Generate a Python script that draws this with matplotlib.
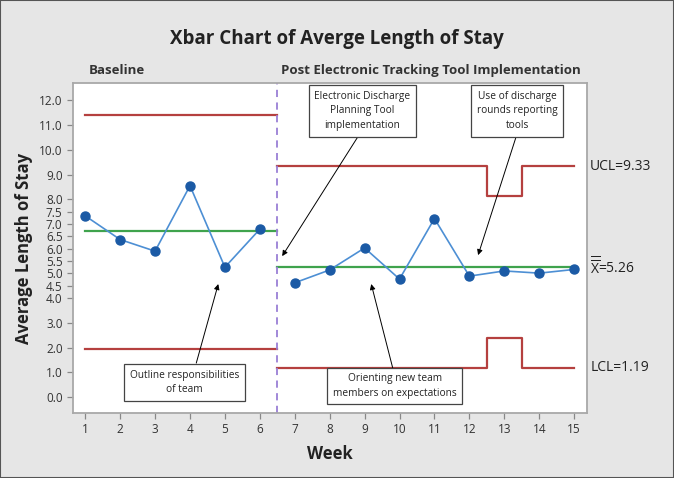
import numpy as np
import matplotlib
matplotlib.use("Agg")
import matplotlib.pyplot as plt
from matplotlib.patches import Rectangle

plt.rcParams['font.family'] = ['Open Sans', 'DejaVu Sans']
plt.rcParams['mathtext.fontset'] = 'custom'
plt.rcParams['mathtext.rm'] = 'Open Sans'

# data
weeks = np.arange(1, 16)
avg_stay = [7.33, 6.37, 5.90, 8.55, 5.25, 6.79,
            4.62, 5.14, 6.03, 4.77, 7.22, 4.89, 5.10, 5.01, 5.16]
stage_split = 6.5
base_center, base_ucl, base_lcl = 6.70, 11.43, 1.94
post_center = 5.26
post_ucl = [9.33, 9.33, 9.33, 9.33, 9.33, 9.33, 8.13, 9.33, 9.33]   # weeks 7..15
post_lcl = [1.19, 1.19, 1.19, 1.19, 1.19, 1.19, 2.39, 1.19, 1.19]
ytick_vals = [0, 1, 2, 3, 4, 4.5, 5, 5.5, 6, 6.5, 7, 7.5, 8, 9, 10, 11, 12]

red = '#b5403f'
green = '#3fa34d'

fig = plt.figure(figsize=(6.74, 4.78), dpi=100, facecolor='#e6e6e6')
ax = fig.add_axes([0.1083, 0.136, 0.7627, 0.690])
ax.set_facecolor('white')

# baseline limits
ax.plot([1, stage_split], [base_ucl, base_ucl], color=red, lw=1.6)
ax.plot([1, stage_split], [base_lcl, base_lcl], color=red, lw=1.6)
ax.plot([1, stage_split], [base_center, base_center], color=green, lw=1.6)

# post limits as steps changing half way between weeks
post_weeks = weeks[6:]
def step_xy(vals):
    xs, ys = [], []
    for i, (w, v) in enumerate(zip(post_weeks, vals)):
        left = stage_split if i == 0 else w - 0.5
        right = post_weeks[-1] if i == len(vals) - 1 else w + 0.5
        xs += [left, right]
        ys += [v, v]
    return xs, ys

ax.plot(*step_xy(post_ucl), color=red, lw=1.6)
ax.plot(*step_xy(post_lcl), color=red, lw=1.6)
ax.plot([stage_split, 15], [post_center, post_center], color=green, lw=1.6)

# stage divider
ax.axvline(stage_split, color='#9a7fd6', lw=1.3, ls=(0, (4, 3)))

# data
ax.plot(weeks[:6], avg_stay[:6], color='#4d8fd4', lw=1.2, marker='o',
        ms=6.5, mfc='#1b5aa5', mec='#1b5aa5')
ax.plot(weeks[6:], avg_stay[6:], color='#4d8fd4', lw=1.2, marker='o',
        ms=6.5, mfc='#1b5aa5', mec='#1b5aa5')

ax.set_xlim(0.65, 15.37)
ax.set_ylim(-0.65, 12.7)
ax.set_xticks(weeks)
ax.set_yticks(ytick_vals)
ax.set_yticklabels([f"{v:.1f}" for v in ytick_vals])
ax.tick_params(axis='both', colors='#888888', labelcolor='#333333',
               labelsize=8.5, length=4, width=0.9)
for s in ax.spines.values():
    s.set_color('#a8a8a8')
    s.set_linewidth(1.3)

ax.set_xlabel('Week', fontsize=12, fontweight='bold', color='#222222', labelpad=6)
ax.set_ylabel('Average Length of Stay', fontsize=12, fontweight='bold',
              color='#222222', labelpad=4)

fig.text(0.5, 0.918, 'Xbar Chart of Averge Length of Stay', ha='center',
         va='center', fontsize=13.5, fontweight='bold', color='#222222')
ax.text(1.1, 12.95, 'Baseline', fontsize=9.5, fontweight='bold', color='#333333',
        va='bottom')
ax.text(6.6, 12.95, 'Post Electronic Tracking Tool Implementation', fontsize=9.5,
        fontweight='bold', color='#333333', va='bottom')

# limit labels on the right
ax.text(15.46, 9.33, 'UCL=9.33', fontsize=10, color='#222222', va='center',
        clip_on=False)
ax.text(15.46, post_center, r'$\overline{\overline{\mathrm{X}}}$=5.26', fontsize=10,
        color='#222222', va='center', clip_on=False)
ax.text(15.46, 1.19, 'LCL=1.19', fontsize=10, color='#222222', va='center',
        clip_on=False)

# annotation boxes with arrows
box = dict(boxstyle='square,pad=0.55', fc='white', ec='#444444', lw=0.9)
arrow = dict(arrowstyle='-|>', lw=0.7, color='black', mutation_scale=8,
             shrinkA=0, shrinkB=0)
notes = [
    ('Electronic Discharge\nPlanning Tool\nimplementation', (8.94, 11.58), (8.87, 10.67), (6.64, 5.70)),
    ('Use of discharge\nrounds reporting\ntools', (13.37, 11.58), (13.37, 10.67), (12.25, 5.74)),
    ('Outline responsibilities\nof team', (3.85, 0.59), (4.18, 1.37), (4.81, 4.57)),
    ('Orienting new team\nmembers on expectations', (9.86, 0.44), (9.82, 1.09), (9.19, 4.57)),
]
for txt, center, tail, tip in notes:
    ax.annotate('', xy=tip, xytext=tail, arrowprops=arrow)
    ax.text(center[0], center[1], txt, ha='center', va='center', fontsize=7.3,
            color='#222222', bbox=box, linespacing=1.45, zorder=5)

fig.patches.append(Rectangle((0, 0), 1, 1, transform=fig.transFigure,
                             fill=False, edgecolor='#555555', lw=1.5))

fig.savefig('out.png', dpi=100, facecolor=fig.get_facecolor())
